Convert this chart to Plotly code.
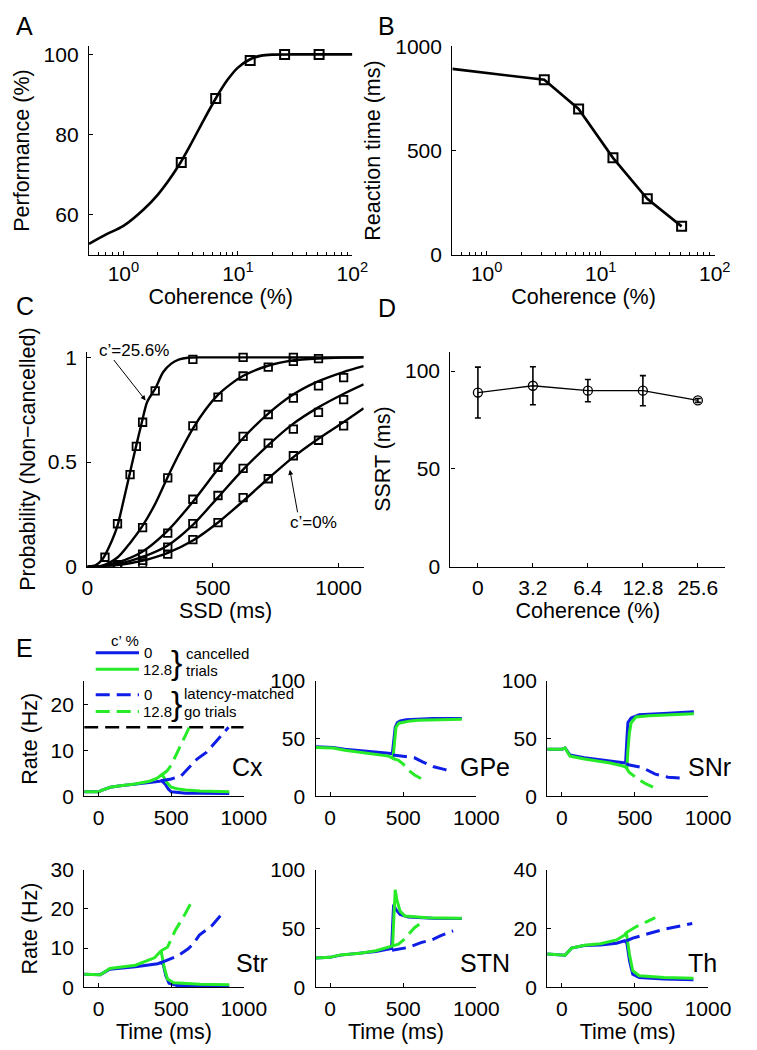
import math
import plotly.graph_objects as go

# page is shown with the browser's default 8px body margin: the figure is sized to fit the rest
OFF = 8
W, H = 757 - OFF, 1050 - OFF
FONT = "Liberation Sans, Arial, Helvetica, sans-serif"
BLUE = "rgb(15,30,230)"
GREEN = "rgb(40,235,40)"
TICK = 21
TITLE = 21.5

# ---------------- Panel A: performance vs coherence ----------------
coh_A = [3.2, 6.4, 12.8, 25.6, 51.2]
perf_A = [73, 89, 98.5, 100, 100]
fit_coh_A = [0.5, 0.7, 1, 1.5, 2, 3, 4, 5, 6.4, 8, 10, 12.8, 16, 20, 30, 50, 100]
fit_perf_A = [52.7, 55.0, 57.2, 61.3, 65.0, 72.0, 78.3, 83.5, 89.0, 93.4, 96.7, 98.8, 99.7, 99.95, 100, 100, 100]

# ---------------- Panel B: reaction time vs coherence ----------------
rt_coh = [0.5, 3.2, 6.4, 12.8, 25.6, 51.2]
rt_ms = [892, 840, 700, 465, 268, 136]

# ---------------- Panel C: P(non-cancelled) vs SSD ----------------
ssd_256 = [70, 120, 170, 195, 220, 270, 420, 620, 820]
p_256 = [0.045, 0.205, 0.44, 0.575, 0.69, 0.84, 0.99, 1.0, 1.0]
ssd_128 = [120, 220, 320, 420, 520, 620, 720, 820, 920]
p_128 = [0.0, 0.187, 0.424, 0.673, 0.81, 0.911, 0.953, 0.981, 0.994]
ssd_std = [120, 220, 320, 420, 520, 620, 720, 820, 920, 1020]
p_064 = [0.01, 0.06, 0.16, 0.322, 0.475, 0.623, 0.727, 0.805, 0.864, 0.903]
p_032 = [0.005, 0.03, 0.093, 0.206, 0.34, 0.47, 0.59, 0.657, 0.737, 0.798]
p_000 = [0.0, 0.015, 0.06, 0.129, 0.21, 0.33, 0.42, 0.53, 0.604, 0.673]

fit_ssd_256 = [0, 34, 60, 98, 121, 143, 168, 194, 217, 238, 270, 302, 334, 366, 400, 450, 1100]
fit_p_256 = [0, 0.008, 0.035, 0.125, 0.2, 0.31, 0.44, 0.576, 0.69, 0.787, 0.85, 0.93, 0.97, 0.99, 0.998, 1.0, 1.0]
fit_ssd_128 = [0, 60, 121, 168, 217, 270, 318, 370, 420, 470, 519, 568, 617, 719, 816, 918, 1019, 1100]
fit_p_128 = [0, 0.005, 0.045, 0.11, 0.19, 0.3, 0.424, 0.55, 0.66, 0.75, 0.82, 0.87, 0.91, 0.96, 0.985, 0.995, 0.999, 1.0]
fit_ssd = [0, 60, 121, 217, 318, 420, 519, 617, 719, 816, 918, 1019, 1100]
fit_p_064 = [0, 0.003, 0.02, 0.07, 0.17, 0.31, 0.465, 0.61, 0.73, 0.82, 0.885, 0.93, 0.958]
fit_p_032 = [0, 0.002, 0.012, 0.045, 0.1, 0.2, 0.33, 0.46, 0.58, 0.68, 0.76, 0.825, 0.871]
fit_p_000 = [0, 0.001, 0.008, 0.028, 0.065, 0.125, 0.21, 0.31, 0.42, 0.52, 0.61, 0.69, 0.757]

# ---------------- Panel D: SSRT vs coherence ----------------
coh_D = ["0", "3.2", "6.4", "12.8", "25.6"]
ssrt = [89, 92.5, 90, 90, 85]
ssrt_err = [13, 9.7, 5.7, 7.7, 1.0]

# ---------------- Panel E: firing rates ----------------
threshold_cx = 15
thr_t = [-100, 1000]

cx_t_c0 = [-100, 0, 20, 80, 150, 250, 350, 420, 435, 460, 480, 500, 550, 600, 700, 800, 900]
cx_c0 = [1.0, 1.0, 1.3, 2.0, 2.3, 2.6, 3.0, 3.3, 3.4, 2.6, 1.6, 1.0, 0.8, 0.7, 0.7, 0.65, 0.65]
cx_t_c128 = [-100, 0, 20, 80, 150, 250, 350, 400, 430, 445, 470, 500, 550, 600, 700, 800, 900]
cx_c128 = [1.0, 1.0, 1.3, 2.0, 2.3, 2.7, 3.3, 3.9, 4.6, 4.4, 3.0, 2.0, 1.6, 1.4, 1.2, 1.1, 1.0]
cx_t_g0 = [430, 500, 567, 611, 678, 744, 811, 878, 895]
cx_g0 = [3.4, 3.8, 4.4, 5.9, 8.1, 9.6, 11.9, 14.4, 15.0]
cx_t_g128 = [430, 470, 500, 530, 567, 600, 625]
cx_g128 = [4.6, 5.5, 6.8, 8.8, 11.0, 13.5, 15.0]

gpe_t_c0 = [-100, 0, 20, 100, 200, 300, 400, 425, 435, 445, 460, 480, 520, 600, 700, 800, 900]
gpe_c0 = [43, 43, 42.5, 41, 40, 39, 37.5, 37, 50, 60, 64, 65.5, 66.5, 67, 67.5, 67.5, 67.5]
gpe_t_c128 = [-100, 0, 20, 100, 200, 300, 400, 430, 440, 450, 470, 500, 550, 600, 700, 800, 900]
gpe_c128 = [42.5, 42.5, 42, 40, 38.5, 37, 35, 33, 50, 60, 63.5, 64.5, 65.5, 66, 66.5, 67, 67]
gpe_t_g0 = [430, 489, 577, 632, 709, 780, 841]
gpe_g0 = [36, 35, 33.5, 30, 25.7, 23.5, 21.4]
gpe_t_g128 = [430, 467, 500, 533, 577, 632]
gpe_g128 = [33, 31.4, 28, 23, 18.6, 14.9]

snr_t_c0 = [-100, 0, 22, 55, 154, 330, 430, 436, 445, 452, 474, 529, 727, 903]
snr_c0 = [41, 41, 42, 36, 33.5, 30.5, 29, 29, 50, 64, 68, 70.8, 72.2, 73.5]
snr_t_c128 = [-100, 0, 22, 55, 154, 330, 418, 445, 452, 462, 474, 507, 595, 750, 903]
snr_c128 = [41, 41, 42, 35, 32.5, 29, 26.4, 25, 40, 55, 63.9, 68.9, 70, 71, 71.7]
snr_t_g0 = [440, 463, 551, 639, 727, 837]
snr_g0 = [28.5, 27.2, 25, 19.4, 16.7, 15.8]
snr_t_g128 = [436, 460, 518, 573, 628]
snr_g128 = [26, 21, 15.3, 11.1, 7.8]

str_t_c0 = [-100, 0, 11, 77, 253, 407, 430, 445, 463, 485, 540, 700, 900]
str_c0 = [3.3, 3.3, 3.2, 4.6, 5.2, 6.0, 6.3, 5.8, 2.9, 1.0, 0.4, 0.3, 0.25]
str_t_c128 = [-100, 0, 11, 77, 253, 385, 418, 430, 452, 474, 518, 600, 700, 900]
str_c128 = [3.3, 3.3, 3.2, 4.8, 5.6, 7.5, 8.75, 9.3, 5.0, 2.1, 1.1, 0.9, 0.75, 0.65]
str_t_g0 = [430, 474, 540, 617, 650, 694, 782, 870]
str_g0 = [6.3, 6.9, 7.9, 9.8, 11.0, 13.3, 15.8, 19.6]
str_t_g128 = [430, 474, 529, 584, 639]
str_g128 = [9.3, 10.2, 14.6, 17.9, 21.7]

stn_t_c0 = [-100, 0, 70, 203, 313, 401, 420, 428, 434, 449, 478, 533, 700, 900]
stn_c0 = [24.8, 25.4, 27.3, 28.7, 30.4, 32.4, 33, 55, 70.4, 66.2, 62, 59.7, 58.8, 58.6]
stn_t_c128 = [-100, 0, 70, 203, 313, 401, 427, 436, 445, 456, 478, 511, 665, 900]
stn_c128 = [24.8, 25.4, 27.5, 29, 31, 33.8, 35.2, 60, 83, 74.6, 64.8, 60.6, 59.2, 58.8]
stn_t_g0 = [423, 480, 533, 621, 700, 753, 841]
stn_g0 = [31.5, 32.5, 33.8, 38, 40.5, 43.7, 47.9]
stn_t_g128 = [427, 467, 500, 533, 577, 632]
stn_g128 = [35.2, 36.6, 40, 45, 50.7, 55.5]

th_t_c0 = [-100, 0, 22, 66, 154, 264, 374, 430, 445, 463, 485, 529, 700, 900]
th_c0 = [11.3, 11.1, 10.9, 13.3, 14.2, 14.4, 15, 15.8, 15, 8.9, 4.4, 3.3, 2.8, 2.5]
th_t_c128 = [-100, 0, 22, 66, 154, 264, 374, 430, 441, 463, 485, 529, 700, 900]
th_c128 = [11.3, 11.1, 10.9, 13.3, 14.3, 14.8, 16.1, 17.8, 18.7, 11, 5.6, 3.9, 3.3, 3.0]
th_t_g0 = [441, 485, 595, 705, 815, 892]
th_g0 = [15.8, 16.7, 18.3, 19.8, 20.9, 21.7]
th_t_g128 = [441, 452, 507, 573, 639]
th_g128 = [18.7, 18.9, 20.6, 22.2, 23.7]

E_panels = [
    ("Cx", cx_t_c0, cx_c0, cx_t_c128, cx_c128, cx_t_g0, cx_g0, cx_t_g128, cx_g128, [0, 25], [0, 10, 20]),
    ("GPe", gpe_t_c0, gpe_c0, gpe_t_c128, gpe_c128, gpe_t_g0, gpe_g0, gpe_t_g128, gpe_g128, [0, 100], [0, 50, 100]),
    ("SNr", snr_t_c0, snr_c0, snr_t_c128, snr_c128, snr_t_g0, snr_g0, snr_t_g128, snr_g128, [0, 100], [0, 50, 100]),
    ("Str", str_t_c0, str_c0, str_t_c128, str_c128, str_t_g0, str_g0, str_t_g128, str_g128, [0, 30], [0, 10, 20, 30]),
    ("STN", stn_t_c0, stn_c0, stn_t_c128, stn_c128, stn_t_g0, stn_g0, stn_t_g128, stn_g128, [0, 100], [0, 50, 100]),
    ("Th", th_t_c0, th_c0, th_t_c128, th_c128, th_t_g0, th_g0, th_t_g128, th_g128, [0, 40], [0, 20, 40]),
]
time_ticks = [0, 500, 1000]


def px(x):
    return (x - OFF) / W


def py(y):
    return 1 - (y - OFF) / H


def xdom(a, b):
    return [px(a), px(b)]


def ydom(top, bottom):
    return [py(bottom), py(top)]


def axstyle(**kw):
    d = dict(showline=True, linecolor="black", linewidth=1.3, ticks="inside", ticklen=4,
             tickwidth=1.2, tickcolor="black", showgrid=False, zeroline=False, mirror=False,
             tickfont=dict(size=TICK, color="black", family=FONT),
             title_font=dict(size=TITLE, color="black", family=FONT))
    d.update(kw)
    return d


fig = go.Figure()
KL = dict(color="black", width=2.6)
SQ = dict(symbol="square-open", size=9, color="black", line=dict(width=2, color="black"))

# Panel A
fig.add_trace(go.Scatter(x=fit_coh_A, y=fit_perf_A, mode="lines", line=dict(color="black", width=2.6, shape="spline", smoothing=0.8), xaxis="x", yaxis="y"))
fig.add_trace(go.Scatter(x=coh_A, y=perf_A, mode="markers", marker=SQ, xaxis="x", yaxis="y"))

# Panel B
fig.add_trace(go.Scatter(x=rt_coh, y=rt_ms, mode="lines", line=KL, xaxis="x2", yaxis="y2"))
fig.add_trace(go.Scatter(x=rt_coh[1:], y=rt_ms[1:], mode="markers", marker=SQ, xaxis="x2", yaxis="y2"))

# Panel C
for fx, fy in [(fit_ssd_256, fit_p_256), (fit_ssd_128, fit_p_128), (fit_ssd, fit_p_064), (fit_ssd, fit_p_032), (fit_ssd, fit_p_000)]:
    fig.add_trace(go.Scatter(x=fx, y=fy, mode="lines", line=dict(color="black", width=2.4, shape="spline", smoothing=0.8), xaxis="x3", yaxis="y3"))
for mx, my in [(ssd_256, p_256), (ssd_128, p_128), (ssd_std, p_064), (ssd_std, p_032), (ssd_std, p_000)]:
    fig.add_trace(go.Scatter(x=mx, y=my, mode="markers", marker=dict(symbol="square-open", size=7.5, color="black", line=dict(width=1.8, color="black")), xaxis="x3", yaxis="y3"))

# Panel D
fig.add_trace(go.Scatter(x=coh_D, y=ssrt, mode="lines+markers", line=dict(color="black", width=1.3),
                         marker=dict(symbol="circle-open", size=9, color="black", line=dict(width=1.3, color="black")),
                         error_y=dict(type="data", array=ssrt_err, visible=True, color="black", thickness=1.6, width=3),
                         xaxis="x4", yaxis="y4"))

# Panel E
DASH = "14px,7px"
for i, (name, tc0, c0, tc1, c1, tg0, g0, tg1, g1, yr, yt) in enumerate(E_panels):
    xa = "x%d" % (i + 5)
    ya = "y%d" % (i + 5)
    if name == "Cx":
        fig.add_trace(go.Scatter(x=thr_t, y=[threshold_cx, threshold_cx], mode="lines", line=dict(color="black", width=2.6, dash=DASH), xaxis=xa, yaxis=ya))
    fig.add_trace(go.Scatter(x=tc0, y=c0, mode="lines", line=dict(color=BLUE, width=3), xaxis=xa, yaxis=ya))
    fig.add_trace(go.Scatter(x=tc1, y=c1, mode="lines", line=dict(color=GREEN, width=3), xaxis=xa, yaxis=ya))
    fig.add_trace(go.Scatter(x=tg0, y=g0, mode="lines", line=dict(color=BLUE, width=3, dash=DASH), xaxis=xa, yaxis=ya))
    fig.add_trace(go.Scatter(x=tg1, y=g1, mode="lines", line=dict(color=GREEN, width=3, dash=DASH), xaxis=xa, yaxis=ya))

layout = dict(width=W, height=H, margin=dict(l=0, r=0, t=0, b=0), plot_bgcolor="white",
              paper_bgcolor="white", showlegend=False, font=dict(family=FONT, color="black"))

minor_log = dict(ticks="inside", ticklen=2.5, tickcolor="black", tickwidth=1, showgrid=False, dtick="D1")
logticks = dict(tickvals=[1, 10, 100], ticktext=["10<sup>0</sup>", "10<sup>1</sup>", "10<sup>2</sup>"])

layout["xaxis"] = axstyle(domain=xdom(86, 360), anchor="y", type="log", range=[math.log10(0.5), 2],
                          minor=minor_log, ticklabelstandoff=0, title=dict(text="Coherence (%)", standoff=0), **logticks)
layout["yaxis"] = axstyle(domain=ydom(35, 248), anchor="x", range=[50, 102], tickvals=[60, 80, 100],
                          ticklabelstandoff=5, title=dict(text="Performance (%)", standoff=8))
layout["xaxis2"] = axstyle(domain=xdom(464, 737), anchor="y2", type="log", range=[math.log10(0.5), 2],
                           minor=minor_log, ticklabelstandoff=0, title=dict(text="Coherence (%)", standoff=0), **logticks)
layout["yaxis2"] = axstyle(domain=ydom(35, 248), anchor="x2", range=[0, 1000], tickvals=[0, 500, 1000],
                           ticklabelstandoff=5, title=dict(text="Reaction time (ms)", standoff=8))
layout["xaxis3"] = axstyle(domain=xdom(84.3, 371.8), anchor="y3", range=[0, 1100], tickvals=[0, 500, 1000],
                           ticklabelstandoff=2, title=dict(text="SSD (ms)", standoff=0))
layout["yaxis3"] = axstyle(domain=ydom(347, 567), anchor="x3", range=[0, 1.028], tickvals=[0, 0.5, 1],
                           ticklabelstandoff=5, title=dict(text="Probability (Non−cancelled)", standoff=6))
layout["xaxis4"] = axstyle(domain=xdom(462, 748), anchor="y4", type="category", range=[-0.5, 4.5],
                           ticklabelstandoff=2, title=dict(text="Coherence (%)", standoff=0))
layout["yaxis4"] = axstyle(domain=ydom(347, 567), anchor="x4", range=[0, 110], tickvals=[0, 50, 100],
                           ticklabelstandoff=5, title=dict(text="SSRT (ms)", standoff=8))

cols = [(81, 247), (321.7, 489), (562.7, 730)]
rows = [(684, 802), (877, 997)]
for i, p in enumerate(E_panels):
    r, c = divmod(i, 3)
    n = i + 5
    xd = axstyle(domain=xdom(*cols[c]), anchor="y%d" % n, range=[-100, 1000], tickvals=time_ticks, ticklabelstandoff=2)
    yd = axstyle(domain=ydom(*rows[r]), anchor="x%d" % n, range=p[9], tickvals=p[10], ticklabelstandoff=5)
    if r == 1:
        xd["title"] = dict(text="Time (ms)", standoff=0)
    if c == 0:
        yd["title"] = dict(text="Rate (Hz)", standoff=6)
    layout["xaxis%d" % n] = xd
    layout["yaxis%d" % n] = yd

fig.update_layout(**layout)

ann = []


def text(x, y, s, size, xanchor="center", yanchor="middle"):
    ann.append(dict(x=px(x), y=py(y), xref="paper", yref="paper", text=s, showarrow=False,
                    xanchor=xanchor, yanchor=yanchor, font=dict(size=size, color="black", family=FONT)))


# panel letters
text(8, 14, "A", 25, xanchor="left")
text(385, 14, "B", 25, xanchor="left")
text(8, 300, "C", 25, xanchor="left")
text(385, 302, "D", 25, xanchor="left")
text(8, 650, "E", 25, xanchor="left")

# panel C annotations
text(133, 346, "c’=25.6%", 17)
text(320, 522, "c’=0%", 17)
ann.append(dict(x=232, y=0.794, xref="x3", yref="y3", ax=-33, ay=-42, text="", showarrow=True,
                arrowhead=2, arrowsize=1, arrowwidth=1, arrowcolor="black"))
ann.append(dict(x=806, y=0.463, xref="x3", yref="y3", ax=8, ay=44, text="", showarrow=True,
                arrowhead=2, arrowsize=1, arrowwidth=1, arrowcolor="black"))

# region labels in E
for (name, *_), (lx, ly) in zip(E_panels, [(233, 772), (470, 772), (707, 772), (237, 972), (470, 972), (707, 972)]):
    text(lx, ly, name, 25, xanchor="left")

# E legend
shapes = []
for (y, col, dash) in [(655, BLUE, "solid"), (672, GREEN, "solid"), (698, BLUE, DASH), (715, GREEN, DASH)]:
    shapes.append(dict(type="line", xref="paper", yref="paper", x0=px(93), x1=px(138), y0=py(y), y1=py(y),
                       line=dict(color=col, width=3, dash=dash)))
text(123, 642, "c’ %", 15)
text(141, 655, "0", 15, xanchor="left")
text(140, 672, "12.8", 15, xanchor="left")
text(141, 698, "0", 15, xanchor="left")
text(140, 715, "12.8", 15, xanchor="left")
text(177, 664, "}", 34)
text(177, 706, "}", 34)
text(185, 656, "cancelled", 15, xanchor="left")
text(185, 673, "trials", 15, xanchor="left")
text(183, 697, "latency-matched", 15, xanchor="left")
text(183, 715, "go trials", 15, xanchor="left")

fig.update_layout(annotations=ann, shapes=shapes)
fig.write_html("out.html")
